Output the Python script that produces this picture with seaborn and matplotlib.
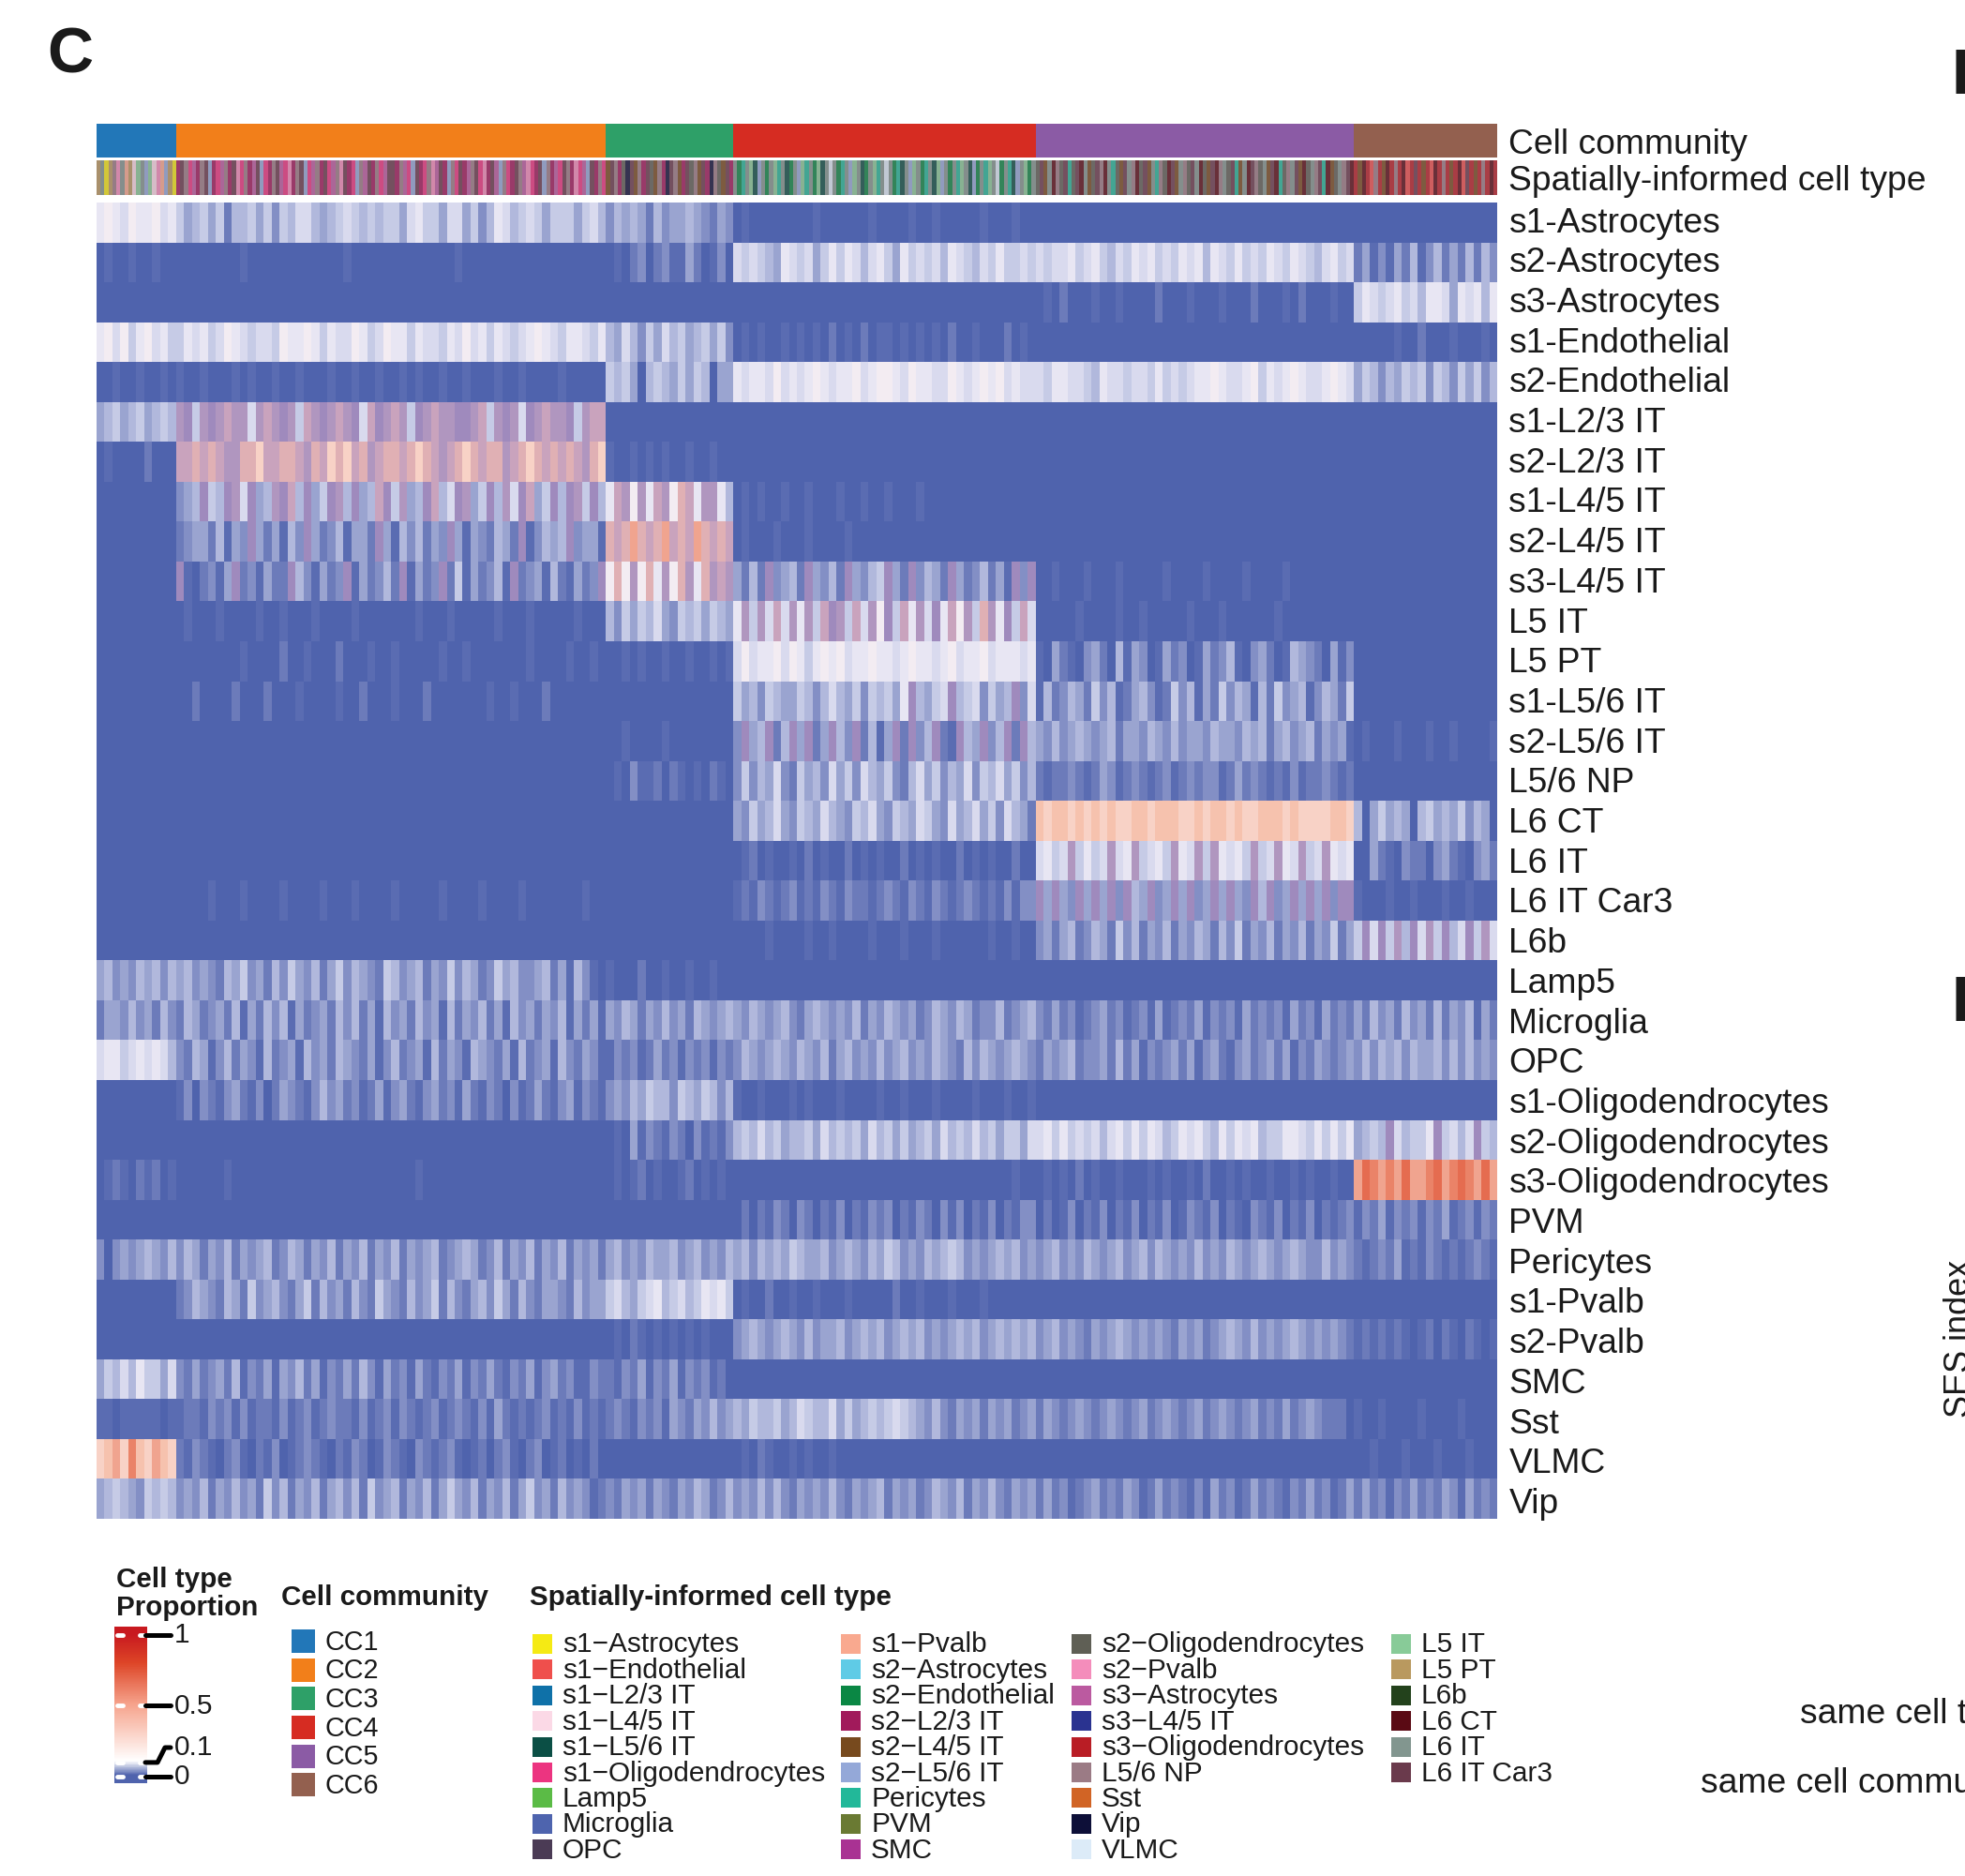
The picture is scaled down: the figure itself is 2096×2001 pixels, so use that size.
import numpy as np
import pandas as pd
import seaborn as sns
import matplotlib.pyplot as plt
from matplotlib.colors import BoundaryNorm, LinearSegmentedColormap, ListedColormap
from matplotlib.patches import Rectangle

W, H = 2096, 2001

row_names = [
    "s1-Astrocytes", "s2-Astrocytes", "s3-Astrocytes", "s1-Endothelial", "s2-Endothelial",
    "s1-L2/3 IT", "s2-L2/3 IT", "s1-L4/5 IT", "s2-L4/5 IT", "s3-L4/5 IT", "L5 IT", "L5 PT",
    "s1-L5/6 IT", "s2-L5/6 IT", "L5/6 NP", "L6 CT", "L6 IT", "L6 IT Car3", "L6b", "Lamp5",
    "Microglia", "OPC", "s1-Oligodendrocytes", "s2-Oligodendrocytes", "s3-Oligodendrocytes",
    "PVM", "Pericytes", "s1-Pvalb", "s2-Pvalb", "SMC", "Sst", "VLMC", "Vip",
]

communities = ["CC1", "CC2", "CC3", "CC4", "CC5", "CC6"]
community_colors = ["#2277b8", "#f27f1a", "#2ea068", "#d62c22", "#8b5ba5", "#93604f"]
community_sizes = [10, 54, 16, 38, 40, 18]

# spatial types in legend order, each with the letter used in spatial_columns
spatial_types = [
    "s1−Astrocytes", "s1−Endothelial", "s1−L2/3 IT", "s1−L4/5 IT", "s1−L5/6 IT",
    "s1−Oligodendrocytes", "Lamp5", "Microglia", "OPC",
    "s1−Pvalb", "s2−Astrocytes", "s2−Endothelial", "s2−L2/3 IT", "s2−L4/5 IT", "s2−L5/6 IT",
    "Pericytes", "PVM", "SMC",
    "s2−Oligodendrocytes", "s2−Pvalb", "s3−Astrocytes", "s3−L4/5 IT", "s3−Oligodendrocytes",
    "L5/6 NP", "Sst", "Vip", "VLMC",
    "L5 IT", "L5 PT", "L6b", "L6 CT", "L6 IT", "L6 IT Car3",
]
spatial_letters = "abcdefghijklmnopqrstuvwxyzABCDEFG"
spatial_colors = [
    "#f5ea14", "#ef4f4c", "#0f71a8", "#fbd9e6", "#0b4f45", "#ec3480", "#5bbb46", "#4e64ae", "#4b3b55",
    "#f9a98f", "#5fcbe6", "#0a8744", "#a11a5b", "#774a1e", "#94a8d8", "#22b899", "#6a7a33", "#a93293",
    "#5f5f55", "#f48dbb", "#bb5aa0", "#2a3390", "#b91d25", "#9b7b85", "#d16425", "#0d0f38", "#dcebf8",
    "#88cb98", "#b9995f", "#23421c", "#5a0a14", "#82968f", "#6a3a4c",
]
# the strip is drawn at twice the column count of the heatmap
spatial_columns = [
    "CFaCxtFjCdBFoBdtjoCa",
    "mGxfumxGomfuxmGtfxmuGofmxGuftmxGofuxmGfuxtGmfoxuGmxfuGGmxufoGmfxtuGmoxfGmuxGftmGuoxfmGxutfmGoxmufGxmtfuoGmxf",
    "nGxmszGnxmGsnxmzGxnmGsxnGmzxsnGm",
    "FlpFBeoFlFBpFelFoBpFlBeFAFlpFoBFelFBpFAFlpeFoBFlpFeBoFlFpBFeolFpBFAlFpeoFBlF",
    "sGnFExsGpsGEFnsGxEFpsnGFxEsGnFpxsEGnFxsGFEsnGExFsGpnFEGxsFnGEpsxFGnEsFxGpEnsFxGE",
    "wnEwbxwnEwxwEbwGwnwbEwxwnwEbGwnwxwEw",
]

# one letter per column: proportion, see level_values
level_codes = "0123456789abcdefghi"
level_values = [0, .01, .02, .03, .04, .05, .06, .07, .08, .09,
                .11, .13, .16, .2, .24, .28, .4, .5, .6]
level_colors = [
    "#4f63ad", "#5a6cb2", "#6c7bba", "#838fc5", "#9aa4d0", "#b1b8dc", "#c6cbe6", "#d9daee", "#e8e6f3", "#f3ecf2",
    "#9f8abd", "#b096bf", "#c9a3bd", "#e0b0b4", "#f8d2c6", "#f6c2ae", "#f0a48f", "#ea8368", "#e56c50",
]

heat_rows = [
    "8987988978|645646255646365775456765656647866477463587567646664675|3545425344543243|0100000000100000010000100100000100010000||",
    "0100100100|000000001000000000000100000000000001000000000000000000|0102302311420130|7676548767468687578648676758765768667657|7677867865768786768785876867687687657867|241314251352425253",
    "|||0|0102000100100002000100010002000102000100|687678675887487858",
    "8979689786|687867987677698898687798679886877687978687678987688768|5475364756456463|0101001010102010201101010102001000201001||000001002000100010",
    "0010010010|100100010100100100010010010010100100100010010000100000|6564056546465044|8788797878987889789987988779878989787799|7688776587767768676788987789687898778987|465354656365364635",
    "4564564565|ba6bab c".replace(" ", "") + "bb7bcbab6cbabcba7cabcb6abcbbaabc6bab7abcbba6bc|||||",
    "0100002000|ccdcdcbbddeccddcbdcedecdbcddcdedcbcdedcddbcdedcdcdcbde|1001010100100100||||",
    "|345a65ab7a45bac5a46ab5a45ca6b45ac57ab46a5b7ac46a5ab6a54a|8cb9b8cb9dc8bb85|0101001001000100100100010000000000000000||",
    "|234425143a424153a42351442a41535243a41432542a13545a344135|dcdgdcdgcdcgdcdc|0100010001000010000000000000000000000000||",
    "|a102314a231422a531423a142352a1423a26142351a2341521423a12|9d9b9d8b9db8dbcb|4252a3452a4352a4356a42a3542a4235241a3a5a|0010001000100000100001000010000100000000|",
    "|0100010000100100010000100000001000100000100010000010000|5364657436564654|8b6b7c7b8b6cab6c7b9a6c8b7a8c9b6db8a6c720|0000010000100100000100010000001000000000|",
    "|0000000010000200100020001001000001001000000010000100100|0010100100100101|7978897986898978898878988789788978887888|1042103420514301423014235103420154320413|",
    "|002000020002000100001002000100020000000100100020000000|0|6453654465357546365648a5467a5673645a3756|1523542635124531263514263541526345135426|",
    "|000000000000000000000000000000000000000000000000000000|0010000100000000|3a45a25a4a24a53a2514a2a35a21a54a35a2a5a4|4353454345244354353443544354524534524341|010001000100100001",
    "||0103112021010210|3635473264537463754632574635473657463546|2122321243123212312323312423212131223212|",
    "|||4364574365475436574365476437457463754254|feffefefefeeffefffeefeffefeefffefeeeeffe|504645405645463540",
    "|||0120100102010020101002010100201010020|7867b6867b78b6786b87b6b8786b67b87b67b878|004210322034210342",
    "|000010001000010000100010000100000100001000010000000100|0|1213212312132132212321321321232121313|a4a43a4a4a3a54a34a4a34a4a43a5a34a4a4a3a|100010010001001000",
    "|||0000100001001000010001000100000010010|3424523542635243524354253624352435243624|6a7a6b5a7b6a57a6b7",
    "4534354535|453432546342536435246354326534524363542364533452415310|1000200100100100|0||",
    "2443534253|254234251425351423425352415342534152435241534243514241|4354243534254345|4354345324543435243543423543542335234542|3242312342312314123241323142323142314232|425342534252435142",
    "7886787875|325413524315234153425432413523415243154324152341532431|1323124231323132|3543454354352453435345343543253543454345|2434523342524132342413421342342413243234|353545354453535343",
    "|130321342130243213534231241342134231421320312421341321|3435465536546535|1001000101000100001001000100001000100100||",
    "||0104132132031213|5657564556475656475646456475657564664746|7868676757868687568786586878566887686868|4565a75668a6757a65",
    "0121021201|000000100000000000000000000000100000000000000000000000|0101201001201010|0000000000000000000000000000000000010010|0101020100100010100102001010010010100100|gihghgigghighihgig",
    "|||0202132032021302132302132031302130213|0201302130213021301321302103213021302123|132413231324123132",
    "3034345435|354243524345235424352435243524345234542352435243524342|4534354453453435|4535454654453454354653435456534345453435|3453435434534535434353435434543454335343|212324121321212321",
    "|235432542634532462534253264325346253245364253244325344|6754678567568786|0100200100100010000020010001000100000000||",
    "||0102101010101000|3454345435344534545345453434545345454543|3453432434543434324342345435343454343432|121212101202102101",
    "4657586647|324234251324143524132425314231421324132421324134231132|2132413241323120|0||",
    "1101111101|122132313122131231232213123132123123213142121231213121|2321323143243534|5465564576557464565676543532434243423432|2432343234323423432342343234232423432220|100100001000010000",
    "efgehfegfe|213210231021301232102132013210321231012023102301201020|0|0102100101001000|0|001000100010001000",
    "4565436565|343524353426352435245352634524352464352435246342534312|3243424324354235|3435353243435324345243423543524353243435|2423123423243124232131423124232132423124|242313242324314232",
]

colorbar_ticks = [1, 0.5, 0.1, 0]
colorbar_tick_labels = ["1", "0.5", "0.1", "0"]
colorbar_stops = [(0, "#4f63ad"), (0.1, "#ffffff"), (0.5, "#f6a48d"), (0.8, "#dd4527"), (1, "#c8191f")]

sns.set_theme(style="white")
plt.rcParams["font.family"] = ["Liberation Sans", "DejaVu Sans"]
TEXT = "#1a1a1a"


def fit(seg, size):
    return seg[:size].ljust(size, seg[-1] if seg else "0")


def decode_row(row):
    parts = (row.split("|") + [""] * 6)[:6]
    values = []
    for seg, size in zip(parts, community_sizes):
        values += [level_values[level_codes.index(c)] for c in fit(seg, size)]
    return values


def px_axes(fig, x0, y0, x1, y1):
    return fig.add_axes([x0 / W, 1 - y1 / H, (x1 - x0) / W, (y1 - y0) / H])


heat = pd.DataFrame([decode_row(r) for r in heat_rows], index=row_names)
spatial_text = "".join(fit(s, n * 2) for s, n in zip(spatial_columns, community_sizes))
spatial_codes = [spatial_letters.index(c) for c in spatial_text]
community_codes = np.repeat(np.arange(len(communities)), community_sizes)

fig = plt.figure(figsize=(W / 100, H / 100), dpi=100)
LEFT, RIGHT = 103, 1597
HEAT_TOP, HEAT_BOTTOM = 216, 1620
LABEL_PT = 26.8
LABEL_PAD = 9

# annotation strips
ax = px_axes(fig, LEFT, 132, RIGHT, 168)
sns.heatmap(pd.DataFrame([community_codes], index=["Cell community"]), ax=ax, cbar=False,
            cmap=ListedColormap(community_colors), vmin=-0.5, vmax=5.5, xticklabels=False, yticklabels=True)
ax2 = px_axes(fig, LEFT, 171, RIGHT, 208)
sns.heatmap(pd.DataFrame([spatial_codes], index=["Spatially-informed cell type"]), ax=ax2, cbar=False,
            cmap=ListedColormap(spatial_colors), vmin=-0.5, vmax=32.5, xticklabels=False, yticklabels=True)
# cells are thinner than a pixel or two in the original, so the colours read muted
ax2.set_facecolor("#8a8088")
ax2.collections[0].set_alpha(0.68)

# main heatmap
bounds = [v - 0.005 for v in level_values] + [level_values[-1] + 0.1]
ax3 = px_axes(fig, LEFT, HEAT_TOP, RIGHT, HEAT_BOTTOM)
sns.heatmap(heat, ax=ax3, cbar=False, cmap=ListedColormap(level_colors),
            norm=BoundaryNorm(bounds, len(level_colors)), xticklabels=False, yticklabels=True)

for a in (ax, ax2, ax3):
    a.yaxis.tick_right()
    a.tick_params(axis="y", length=0, labelsize=LABEL_PT, pad=LABEL_PAD, labelcolor=TEXT, labelrotation=0)
    a.set_xlabel("")
    a.set_ylabel("")

# row labels sit on a slightly wider pitch than the rows
row_h = (HEAT_BOTTOM - HEAT_TOP) / len(row_names)
ax3.set_yticks([(234 + 42.7 * i - HEAT_TOP) / row_h for i in range(len(row_names))])
ax3.set_yticklabels(row_names, rotation=0)

# colorbar
prop_cmap = LinearSegmentedColormap.from_list("prop", colorbar_stops)
ramp = np.linspace(1.053, -0.053, 220)
axc = px_axes(fig, 122, 1735, 157, 1902)
sns.heatmap(pd.DataFrame(ramp), ax=axc, cbar=False, cmap=prop_cmap, vmin=0, vmax=1,
            xticklabels=False, yticklabels=False)

# overlay in pixel coordinates for the legends and cut-off texts
ov = fig.add_axes([0, 0, 1, 1], zorder=5)
ov.set_xlim(0, W)
ov.set_ylim(H, 0)
ov.axis("off")
ov.patch.set_alpha(0)


def tick_y(v):
    return 1895 - v * 151


for v, lab in zip(colorbar_ticks, colorbar_tick_labels):
    y = tick_y(v)
    ov.plot([125, 131], [y, y], color="white", lw=3.5, solid_capstyle="round")
    ov.plot([149, 154], [y, y], color="white", lw=3.5, solid_capstyle="round")
    ly = 1864 if v == 0.1 else y
    ov.plot([155, 168, 176, 182], [y, y, ly, ly], color="black", lw=3.6,
            solid_capstyle="round", solid_joinstyle="round")
    ov.text(186, ly, lab, fontsize=21.5, va="center", ha="left", color=TEXT)

TITLE_PT = 21.3
ov.text(124, 1685, "Cell type", fontsize=TITLE_PT, fontweight="bold", va="center", color=TEXT)
ov.text(124, 1715, "Proportion", fontsize=TITLE_PT, fontweight="bold", va="center", color=TEXT)
ov.text(300, 1704, "Cell community", fontsize=TITLE_PT, fontweight="bold", va="center", color=TEXT)
ov.text(565, 1704, "Spatially-informed cell type", fontsize=TITLE_PT, fontweight="bold", va="center", color=TEXT)

for i, (name, col) in enumerate(zip(communities, community_colors)):
    y = 1738 + i * 30.7
    ov.add_patch(Rectangle((311, y), 25, 25, facecolor=col, edgecolor="none"))
    ov.text(347, y + 13.5, name, fontsize=20.7, va="center", color=TEXT)

# four columns of the spatial legend: 9, 9, 9 and 6 entries
legend_x = [568, 897, 1143, 1484]
legend_counts = [9, 9, 9, 6]
k = 0
for x, count in zip(legend_x, legend_counts):
    for i in range(count):
        y = 1743 + i * 27.4
        ov.add_patch(Rectangle((x, y), 21, 21, facecolor=spatial_colors[k], edgecolor="none"))
        ov.text(x + 32, y + 11.5, spatial_types[k], fontsize=21.4, va="center", color=TEXT)
        k += 1

ov.text(50, 59, "C", fontsize=49, fontweight="bold", va="center", color=TEXT)
ov.text(2082, 82, "D", fontsize=49, fontweight="bold", va="center", color=TEXT, clip_on=False)
ov.text(2082, 1071, "E", fontsize=49, fontweight="bold", va="center", color=TEXT, clip_on=False)
ov.text(1920, 1828, "same cell type", fontsize=26.8, va="center", color=TEXT)
ov.text(1814, 1902, "same cell community", fontsize=26.8, va="center", color=TEXT)
ov.text(2073, 1512, "SES index", fontsize=26, rotation=90, va="bottom", ha="left", color=TEXT)

fig.savefig("out.png", dpi=100)
